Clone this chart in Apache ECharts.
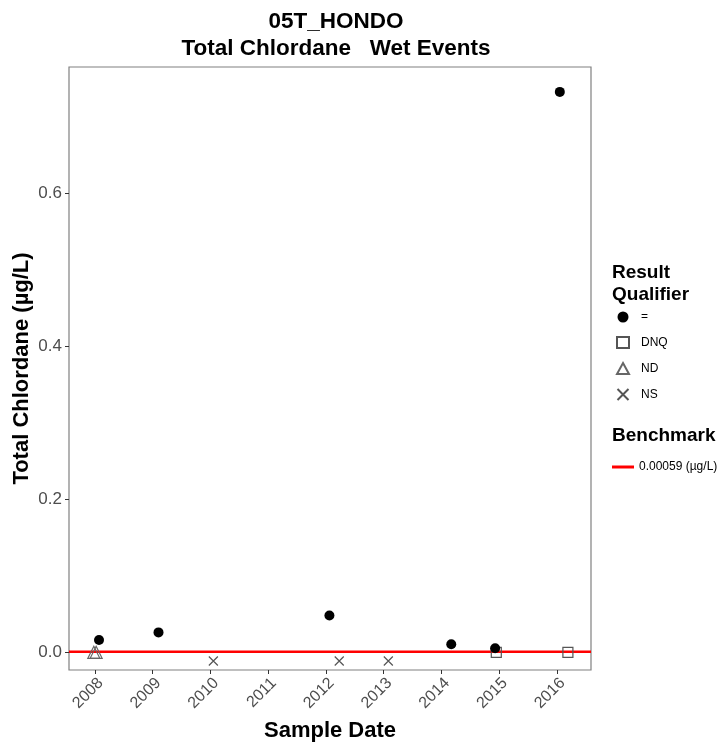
<!DOCTYPE html>
<html><head><meta charset="utf-8">
<script src="https://cdn.jsdelivr.net/npm/echarts@6/dist/echarts.min.js"></script>
<style>html,body{margin:0;padding:0;background:#fff}#c{width:727px;height:746px}</style>
</head><body><div id="c"></div>
<script>
// Data (x = decimal year of sample date, y = Total Chlordane µg/L)
const eqPoints  = [[2008.07,0.016],[2009.10,0.026],[2012.06,0.048],[2014.17,0.0105],[2014.93,0.0052],[2016.05,0.732]];
const dnqPoints = [[2014.95,0.0],[2016.19,0.0]];
const ndPoints  = [[2007.98,0.0],[2008.02,0.0]];
const nsPoints  = [[2010.05,-0.0114],[2012.23,-0.0114],[2013.08,-0.0114]];
const benchmark = 0.00059;
const xTicks = [2008,2009,2010,2011,2012,2013,2014,2015,2016];
const yTicks = [0,0.2,0.4,0.6];
const xMin = 2007.55, xMax = 2016.59, yMin = -0.0231, yMax = 0.7645;

const FONT = '"Liberation Sans", Arial, sans-serif';
const grey = '#4d4d4d';
const chart = echarts.init(document.getElementById('c'), null, {renderer:'canvas'});
const xPath = 'path://M0,0L10,10M10,0L0,10';
chart.setOption({
  animation:false,
  textStyle:{fontFamily:FONT},
  title:{text:'05T_HONDO\nTotal Chlordane   Wet Events', left:331, top:3, textAlign:'center',
    textStyle:{fontFamily:FONT,fontSize:22.5,fontWeight:'bold',color:'#000',lineHeight:27}},
  grid:{left:69, top:67, right:136, bottom:76, show:true, borderColor:'#808080', borderWidth:1.2,
    backgroundColor:'#fff', containLabel:false, outerBoundsMode:'none'},
  xAxis:{type:'value', min:xMin, max:xMax, name:'Sample Date', nameLocation:'middle', nameGap:50,
    nameTextStyle:{fontFamily:FONT,fontSize:22,fontWeight:'bold',color:'#000'},
    axisLine:{show:false, onZero:false}, splitLine:{show:false},
    axisTick:{show:true, length:4, lineStyle:{color:'#333'}, customValues:xTicks},
    axisLabel:{customValues:xTicks, rotate:45, fontSize:16, color:grey, margin:5, verticalAlign:'top',
      formatter:v=>String(Math.round(v))}},
  yAxis:{type:'value', min:yMin, max:yMax, name:'Total Chlordane (µg/L)', nameLocation:'middle', nameGap:36,
    nameMoveOverlap:false,
    nameTextStyle:{fontFamily:FONT,fontSize:22,fontWeight:'bold',color:'#000'},
    axisLine:{show:false, onZero:false}, splitLine:{show:false},
    axisTick:{show:true, length:4, lineStyle:{color:'#333'}, customValues:yTicks},
    axisLabel:{customValues:yTicks, fontSize:17, color:grey, margin:7, formatter:v=>v.toFixed(1)}},
  legend:[
    {data:[{name:'='},{name:'DNQ'},{name:'ND'},{name:'NS'}], orient:'vertical', left:611, top:306,
      itemWidth:12, itemHeight:11, itemGap:13, textStyle:{fontSize:12, color:'#000', fontFamily:FONT, padding:[0,0,0,7]}},
    {data:['0.00059 (µg/L)'], orient:'vertical', left:607, top:456, icon:'rect', itemWidth:22, itemHeight:3,
      textStyle:{fontSize:12, color:'#000', fontFamily:FONT}}
  ],
  graphic:[
    {type:'text', left:612, top:262, style:{text:'Result\nQualifier', font:'bold 19px '+FONT, lineHeight:22, fill:'#000'}},
    {type:'text', left:612, top:426, style:{text:'Benchmark', font:'bold 19px '+FONT, fill:'#000'}}
  ],
  series:[
    {name:'0.00059 (µg/L)', type:'line', data:[[xMin,benchmark],[xMax,benchmark]], symbol:'none', z:1,
      lineStyle:{color:'#ff0000', width:2.5}, itemStyle:{color:'#ff0000'}},
    {name:'DNQ', type:'scatter', data:dnqPoints, symbol:'rect', symbolSize:10, z:3,
      itemStyle:{color:'rgba(255,255,255,0)', borderColor:'#555', borderWidth:1.2, opacity:1}},
    {name:'ND', type:'scatter', data:ndPoints, symbol:'triangle', symbolSize:12, z:3,
      itemStyle:{color:'rgba(255,255,255,0)', borderColor:'#666', borderWidth:1.2, opacity:1}},
    {name:'NS', type:'scatter', data:nsPoints, symbol:xPath, symbolSize:9, z:3,
      itemStyle:{color:'rgba(255,255,255,0)', borderColor:'#555', borderWidth:1.2, opacity:1}},
    {name:'=', type:'scatter', data:eqPoints, symbol:'circle', symbolSize:10, z:4,
      itemStyle:{color:'#000', opacity:1}}
  ]
});
</script></body></html>
